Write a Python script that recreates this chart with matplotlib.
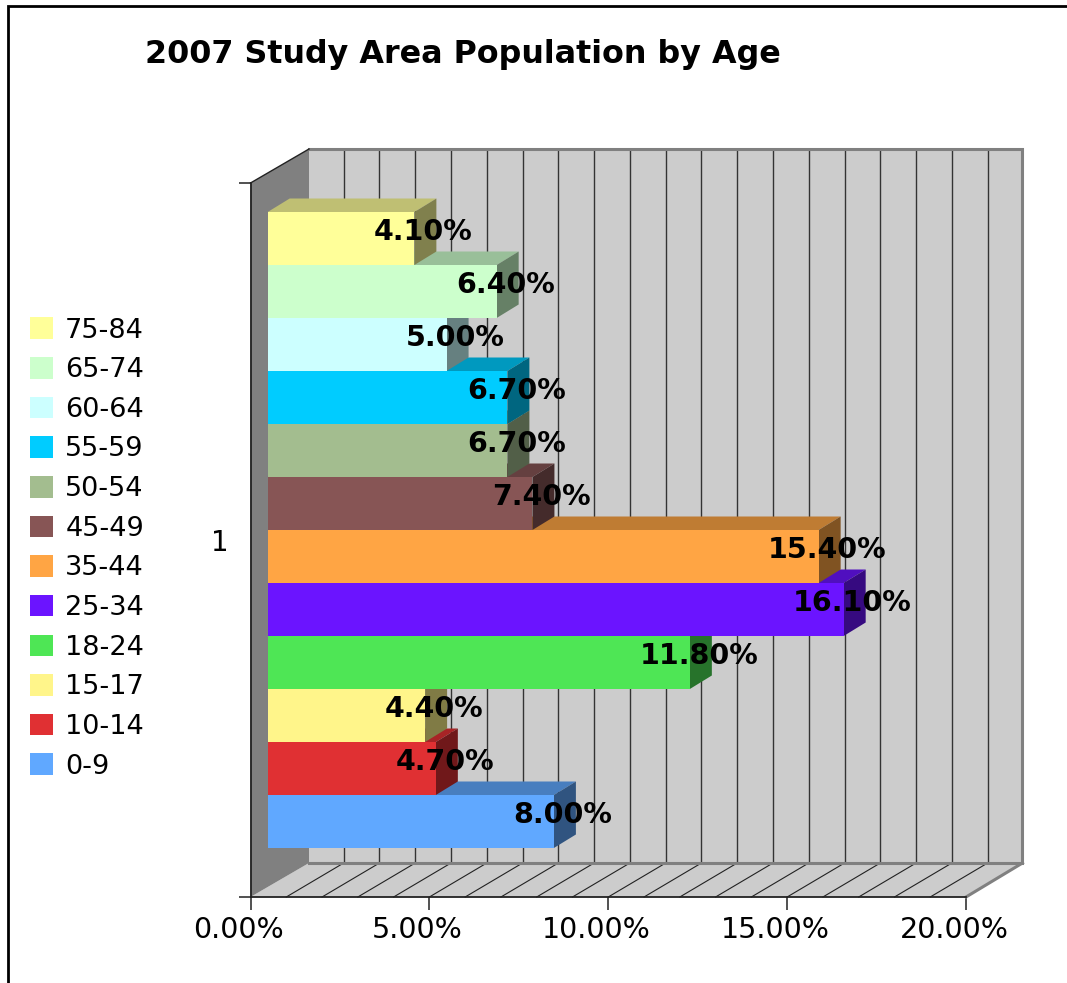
import matplotlib
matplotlib.use("Agg")
import matplotlib.pyplot as plt
from matplotlib.lines import Line2D
from matplotlib.patches import Patch
from matplotlib.colors import to_rgb
from matplotlib.transforms import ScaledTranslation

# Data, bottom bar first
ages = ["0-9", "10-14", "15-17", "18-24", "25-34", "35-44",
        "45-49", "50-54", "55-59", "60-64", "65-74", "75-84"]
shares = [8.0, 4.7, 4.4, 11.8, 16.1, 15.4, 7.4, 6.7, 6.7, 5.0, 6.4, 4.1]
colors = ["#60A8FF", "#E03033", "#FFF58A", "#4EE655", "#6B14FF", "#FFA544",
          "#875555", "#A3BD8F", "#00CCFF", "#CCFFFF", "#CCFFCC", "#FFFF99"]
major_ticks = [0, 5, 10, 15, 20]
minor_ticks = list(range(1, 20))

W, H = 1067, 983
fig = plt.figure(figsize=(W / 100, H / 100), dpi=100)
ax = fig.add_axes([250.5 / W, (H - 897) / H, 715.5 / W, 714 / H])
ax.set_xlim(0, 20)
ax.set_ylim(0.5, 1.5)
ax.patch.set_alpha(0)

# pixels to data units
px_x = 20 / 715.5
px_y = 1 / 714

wall_dx, wall_dy = 58.5 * px_x, 34 * px_y
wall_right = 20 + 56.5 * px_x
face_dx, face_dy = 17.2 * px_x, 10 * px_y
bar_dx, bar_dy = 22 * px_x, 13.5 * px_y
bar_h = 53 * px_y

GRAY = "#808080"
WALL = "#cccccc"

# walls and floor
ax.fill([wall_dx, wall_right, wall_right, wall_dx],
        [0.5 + wall_dy, 0.5 + wall_dy, 1.5 + wall_dy, 1.5 + wall_dy],
        color=WALL, lw=0, clip_on=False, zorder=1)
ax.fill([0, wall_dx, wall_right, 20],
        [0.5, 0.5 + wall_dy, 0.5 + wall_dy, 0.5],
        color=WALL, lw=0, clip_on=False, zorder=1)
ax.fill([0, wall_dx, wall_dx, 0],
        [0.5, 0.5 + wall_dy, 1.5 + wall_dy, 1.5],
        color=GRAY, lw=0, clip_on=False, zorder=1)

# grid on back wall and floor
for t in minor_ticks:
    ax.plot([t + wall_dx - 0.03] * 2, [0.5 + wall_dy, 1.5 + wall_dy],
            color="#333333", lw=1.0, clip_on=False, zorder=2)
    ax.plot([t, t + wall_dx - 0.03], [0.5, 0.5 + wall_dy],
            color="#222222", lw=0.8, clip_on=False, zorder=2)

# gray outline of the box
ax.plot([wall_dx, wall_right, wall_right, wall_dx],
        [1.5 + wall_dy, 1.5 + wall_dy, 0.5 + wall_dy, 0.5 + wall_dy],
        color=GRAY, lw=2.2, clip_on=False, zorder=3, solid_joinstyle="miter")
ax.plot([20, wall_right], [0.5, 0.5 + wall_dy],
        color=GRAY, lw=2.2, clip_on=False, zorder=3)
ax.plot([0, wall_dx], [1.5, 1.5 + wall_dy],
        color="#222222", lw=1.0, clip_on=False, zorder=3)

# bars, bottom one first so upper bars overlap it
n = len(ages)
bottom = 1 + face_dy - n * bar_h / 2
for i in range(n):
    v = shares[i]
    y0 = bottom + i * bar_h
    y1 = y0 + bar_h
    x0 = face_dx
    x1 = face_dx + v
    rgb = to_rgb(colors[i])
    top_c = tuple(c * 0.75 for c in rgb)
    side_c = tuple(c * 0.5 for c in rgb)
    z = 5 + i
    ax.fill([x0, x0 + bar_dx, x1 + bar_dx, x1],
            [y1, y1 + bar_dy, y1 + bar_dy, y1],
            color=top_c, lw=0, clip_on=False, zorder=z)
    ax.fill([x1, x1 + bar_dx, x1 + bar_dx, x1],
            [y0, y0 + bar_dy, y1 + bar_dy, y1],
            color=side_c, lw=0, clip_on=False, zorder=z)
    ax.barh(y0 + bar_h / 2, v, height=bar_h, left=x0, color=colors[i],
            lw=0, clip_on=False, zorder=z)

# value labels
for i in range(n):
    v = shares[i]
    y = bottom + (i + 0.5) * bar_h + 6.5 * px_y
    ax.text(face_dx + v + 8.8 * px_x, y, f"{v:.2f}%", ha="center", va="center",
            fontsize=20.5, fontweight="bold", color="black", zorder=30,
            clip_on=False)

# axes
for s in ["top", "right"]:
    ax.spines[s].set_visible(False)
for s in ["left", "bottom"]:
    ax.spines[s].set_color("#222222")
    ax.spines[s].set_linewidth(1.3)
    ax.spines[s].set_zorder(4)

ax.set_xticks(major_ticks)
ax.set_xticklabels([f"{t:.2f}%" for t in major_ticks], fontsize=20.5)
ax.set_yticks([0.5, 1.5])
ax.set_yticklabels(["", ""])
ax.set_yticks([1], minor=True)
ax.set_yticklabels(["1"], minor=True, fontsize=20)
ax.tick_params(axis="x", length=9, width=1.1, color="#222222", pad=5)
ax.tick_params(axis="y", which="major", length=9, width=1.1, color="#222222")
ax.tick_params(axis="y", which="minor", length=0, pad=16)

# tick labels sit left of their ticks in the original
shift = ScaledTranslation(-8.5 / 72, 0, fig.dpi_scale_trans)
for lab in ax.get_xticklabels():
    lab.set_transform(lab.get_transform() + shift)

# legend
handles = [Patch(color=c, lw=0) for c in colors[::-1]]
fig.legend(handles, ages[::-1], loc="center left",
           bbox_to_anchor=(30 / W, (H - 548.5) / H), frameon=False,
           fontsize=19.5, handlelength=0.85, handleheight=0.85,
           handletextpad=0.45, labelspacing=0.497, borderpad=0, borderaxespad=0)

fig.text(145 / W, (H - 55) / H, "2007 Study Area Population by Age",
         fontsize=22.85, fontweight="bold", ha="left", va="center")

# outer frame, only top and left show
fig.add_artist(Line2D([7.5 / W, 7.5 / W, 1], [0, (H - 5.5) / H, (H - 5.5) / H],
                      color="black", lw=2.0, transform=fig.transFigure,
                      solid_joinstyle="miter"))

fig.savefig("out.png", dpi=100)
